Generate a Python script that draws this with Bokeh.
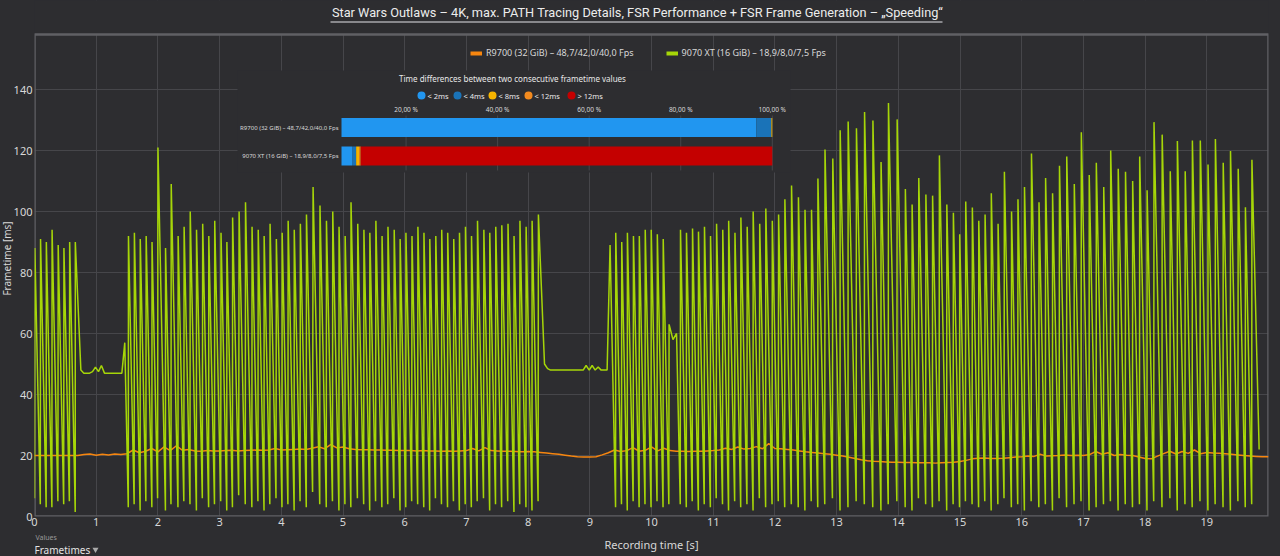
import numpy as np
from bokeh.plotting import figure
from bokeh.layouts import column
from bokeh.models import (Range1d, Legend, LegendItem, ColumnDataSource, FixedTicker, Title)
from bokeh.core.properties import value
from bokeh.embed import file_html
from bokeh.resources import INLINE

# ---------------- data ----------------
title_text = "Star Wars Outlaws – 4K, max. PATH Tracing Details, FSR Performance + FSR Frame Generation – „Speeding“"
series_names = ["R9700 (32 GiB) – 48,7/42,0/40,0 Fps", "9070 XT (16 GiB) – 18,9/8,0/7,5 Fps"]
x_ticks = list(range(0, 20))
y_ticks = [0, 20, 40, 60, 80, 100, 120, 140]

# R9700 frametime (ms), sampled every 0.1 s from 0 to 20 s
orange_ms = [
    20.0, 20.0, 20.0, 20.0, 20.0, 20.0, 20.0, 20.0,
    20.3, 20.5, 20.1, 20.4, 20.2, 20.5, 20.3,
    20.6, 21.8, 20.9, 21.4, 22.3, 21.2, 22.8, 21.6, 23.2, 21.7, 22.0,
    21.5, 21.4, 21.6, 21.5, 21.5, 21.6, 21.7, 21.5, 21.6, 21.7, 21.8, 21.7, 21.8, 22.3, 21.8,
    21.9, 22.0, 22.1, 22.0, 22.4, 22.9, 22.2, 23.6, 22.5, 22.8,
    22.2, 22.0, 21.9, 21.9, 21.8, 21.8, 21.7, 21.7, 21.6, 21.6,
    21.6, 21.5, 21.6, 21.5, 21.5, 21.4, 21.5, 21.4, 21.5, 21.6,
    22.3, 21.5, 22.6, 21.6, 21.5, 21.4, 21.4, 21.3, 21.2, 21.3,
    21.2, 21.0, 20.8, 20.6, 20.4, 20.1, 19.8, 19.6, 19.5, 19.5,
    19.6, 20.2, 20.9, 21.8, 21.3, 21.6, 22.6, 21.4, 21.7, 22.8,
    21.5, 22.4, 21.6, 21.4, 21.4, 21.3, 21.4, 21.4, 21.5, 21.6,
    21.8, 22.4, 22.0, 22.8, 22.1, 22.3, 22.9, 22.2, 23.9, 22.3,
    22.2, 22.0, 21.8, 21.5, 21.2, 21.0, 20.8, 20.6, 20.4, 20.1,
    19.8, 19.4, 19.0, 18.6, 18.3, 18.1, 18.0, 17.9, 17.8, 17.8,
    17.7, 17.7, 17.6, 17.6, 17.6, 17.5, 17.6, 17.7, 17.8, 18.0,
    18.4, 18.9, 19.1, 19.2, 19.0, 19.0, 19.1, 19.3, 19.5, 19.6,
    19.8, 19.7, 20.4, 19.8, 19.9, 20.0, 20.2, 20.0, 20.1, 20.0,
    20.3, 21.3, 20.4, 20.9, 20.0, 20.3, 20.1, 20.0, 19.5, 19.0,
    18.9, 19.8, 20.6, 21.4, 20.5, 21.3, 20.7, 21.8, 20.6, 21.0,
    20.8, 20.7, 20.6, 20.4, 20.2, 20.0, 19.8, 19.7, 19.6, 19.6,
]

# 9070 XT frametimes (ms), frame by frame, in segments
g_a_troughs = [6, 4, 3, 3, 5, 4, 5, 1.5]
g_a_peaks = [88, 91, 90, 94, 89, 88, 90, 90]
g_flat1 = [48, 47, 47, 47, 47.5, 49, 47.5, 49.5, 47, 47, 47, 47, 47, 47, 47, 57]
g_b_troughs = [3, 4, 2, 5, 3, 6, 2, 4, 3, 5,
               4, 2, 6, 3, 4, 5, 2, 3, 7, 4,
               3, 5, 2, 4, 6, 3, 4, 2, 5, 3,
               8, 4, 3, 5, 2, 4, 3, 6, 4, 2,
               5, 3, 4, 6, 2, 3, 5, 4, 3, 2,
               6, 4, 3, 5, 2, 4, 3, 5, 6, 2,
               4, 3, 5, 1.5, 4, 3, 2, 5]
g_b_peaks = [92, 93, 91, 92, 90, 121, 88, 109, 92, 95,
             100, 94, 96, 92, 97, 93, 90, 98, 100, 103,
             95, 94, 92, 96, 91, 93, 97, 94, 96, 99,
             108, 102, 97, 100, 95, 92, 103, 96, 94, 93,
             97, 92, 95, 94, 91, 93, 92, 95, 93, 91,
             92, 94, 93, 91, 93, 95, 92, 97, 94, 93,
             95, 95.5, 96, 92, 97, 95, 97, 99]
g_flat2 = [50, 48.5, 48, 48, 48, 48, 48, 48, 48, 48, 48, 48, 48, 48,
           49.5, 48, 49.5, 48, 49, 48, 48, 48]
g_c_peaks = [89, 93, 90, 93, 92, 92, 94, 94, 92.5, 91]
g_c_troughs = [3, 4, 2, 5, 3, 4, 3, 5, 3, 4]
g_mid = [63, 58, 60]
g_d_troughs = [4, 3, 5, 2, 4, 3, 6, 4, 2, 5, 3, 4, 2, 6, 3, 4, 5, 3,
               4, 3, 2, 5, 3, 4, 6, 2, 3, 5, 4, 3, 2, 4, 5, 3, 2, 6, 4, 3, 5, 2, 4, 3, 5, 4,
               3, 5, 2, 4, 6, 3, 4, 2, 5, 3, 4, 2, 6, 3, 4, 5, 2, 3, 4, 5, 2, 4, 3,
               4, 2, 5, 3, 6, 2, 4, 3, 5, 2, 4, 3, 2, 5, 3, 4]
g_d_peaks = [94, 93, 94.4, 93.4, 95, 92, 96, 94, 97, 93, 98, 95, 100, 96, 101, 97, 99, 104,
             108.5, 104.7, 100.6, 100.6, 110.8, 120.3, 117.4, 126.6, 129.5, 127.3, 132.6,
             129.8, 116.2, 135.6, 130.2, 107.4, 102.3, 111, 105.6, 105.2, 118.4, 102.3,
             99.6, 92.5, 103.3, 101.3,
             97, 99, 106, 96, 113, 100, 104, 108, 119, 103, 111, 106, 115, 118, 109, 126,
             112, 116, 108, 120, 114, 113, 110, 118, 107,
             129.3, 125.2, 113.2, 123.1, 113.2, 123.3, 123.3, 115.4, 123.8, 116, 119.8,
             114, 101.4, 117, 125.2, 106.7]
g_end = [22]

# inset: share of frame-to-frame time differences (%)
delta_classes = ["< 2ms", "< 4ms", "< 8ms", "< 12ms", "> 12ms"]
delta_colors = ["#2196f0", "#1a73b8", "#f5b400", "#f28a1e", "#c40000"]
r9700_shares = [96.5, 3.3, 0.2, 0.0, 0.0]
xt9070_shares = [8.2, 0.9, 0.65, 0.35, 89.9]
inset_ticks = [20, 40, 60, 80, 100]
inset_tick_labels = ["20,00 %", "40,00 %", "60,00 %", "80,00 %", "100,00 %"]
inset_axis_min = 5.9


def alternate(a, b):
    out = []
    for u, v in zip(a, b):
        out += [u, v]
    return out


green_ft = np.array(
    alternate(g_a_troughs, g_a_peaks) + g_flat1 + alternate(g_b_troughs, g_b_peaks)
    + g_flat2 + alternate(g_c_peaks, g_c_troughs) + g_mid
    + alternate(g_d_troughs, g_d_peaks) + g_end, dtype=float)
green_t = np.concatenate([[0.0], np.cumsum(green_ft)[:-1]]) / 1000.0
orange_t = np.linspace(0, 20, len(orange_ms))

# ---------------- styling / layout ----------------
BG = "#2d2d30"
GRID = "#46464a"
TXT = "#d8d8d8"
ORANGE = "#f7860f"
GREEN = "#a6d608"
FONT = "Noto Sans"
W = 1280
FL, FR, FT, FB = 34, 1268, 34, 516   # plot-area edges on the page
MAIN_BOTTOM = 532                    # page y where the main figure ends


def anchored(v0, p0, v1, p1, ps, pe):
    k = (v1 - v0) / (p1 - p0)
    return Range1d(start=v0 + (ps - p0) * k, end=v0 + (pe - p0) * k)


# main figure: its frame runs from the page top (title area inside) to FB
p = figure(width=W, height=MAIN_BOTTOM, x_range=Range1d(0, 20),
           y_range=anchored(0, FB, 140, 89, FB, 0),
           output_backend="svg", toolbar_location=None,
           min_border_left=FL, min_border_right=W - FR, min_border_top=0,
           min_border_bottom=MAIN_BOTTOM - FB,
           background_fill_color=None, border_fill_color=None)
p.outline_line_color = None

for ax in (p.xaxis, p.yaxis):
    ax.axis_line_color = None
    ax.major_tick_line_color = None
    ax.minor_tick_line_color = None
    ax.major_tick_out = 0
    ax.major_label_text_color = TXT
    ax.major_label_text_font = FONT
    ax.major_label_text_font_size = "11px"
p.xaxis.ticker = FixedTicker(ticks=x_ticks)
p.yaxis.ticker = FixedTicker(ticks=y_ticks)
p.xaxis.major_label_standoff = 1
p.yaxis.major_label_standoff = 2
p.xgrid.ticker = FixedTicker(ticks=x_ticks)
p.ygrid.ticker = FixedTicker(ticks=y_ticks)
p.xgrid.grid_line_color = GRID
p.ygrid.grid_line_color = GRID
p.add_layout(Title(text="Frametime [ms]", align="center", offset=-22, standoff=-6,
                   text_font=FONT, text_font_size="10px", text_font_style="normal",
                   text_color=TXT), "left")

p.extra_x_ranges = {"px": Range1d(FL, FR),
                    "pct": anchored(inset_axis_min, 341, 100, 771.8, FL, FR)}
p.extra_y_ranges = {"py": Range1d(FB, 0),
                    "row": anchored(1, 127, 0, 155.5, FB, 0)}

# title area (covers the grid above the plot area)
p.quad(left=[0], right=[W], top=[0], bottom=[FT], fill_color=BG, line_color=None,
       x_range_name="px", y_range_name="py")
p.text(x=[637], y=[12], text=[title_text], text_font=value("Roboto"),
       text_font_size="12.75px", text_color="#ececec", text_align="center",
       text_baseline="middle", x_range_name="px", y_range_name="py")
p.segment(x0=[330], x1=[942], y0=[21.5], y1=[21.5], line_color="#88888c", line_width=2,
          x_range_name="px", y_range_name="py")
# plot-area border
p.quad(left=[FL], right=[FR], top=[FT], bottom=[FB], fill_alpha=0, line_color="#606064",
       line_width=2.5, x_range_name="px", y_range_name="py")

# series
p.line(orange_t, orange_ms, line_color=ORANGE, line_width=1.5)
p.line(green_t, green_ft, line_color=GREEN, line_width=1.5)

# legend swatches: thick lines lying outside the visible range
sw_or = p.line([-5, -4], [-50, -50], line_color=ORANGE, line_width=4)
sw_gr = p.line([-5, -4], [-50, -50], line_color=GREEN, line_width=4)
legend = Legend(items=[LegendItem(label=series_names[0], renderers=[sw_or]),
                       LegendItem(label=series_names[1], renderers=[sw_gr])],
                location=(436, FB - 59), orientation="horizontal",
                background_fill_alpha=0, border_line_color=None,
                label_text_color=TXT, label_text_font=FONT, label_text_font_size="9px",
                glyph_width=12, glyph_height=10, label_height=10, spacing=32,
                padding=0, margin=0, label_standoff=4)
p.add_layout(legend)

# ---------------- inset bar chart ----------------
p.quad(left=[237], right=[790], top=[70], bottom=[172], fill_color=BG, line_color=None,
       x_range_name="px", y_range_name="py")
p.segment(x0=inset_ticks, x1=inset_ticks, y0=[115] * len(inset_ticks),
          y1=[170] * len(inset_ticks), line_color=GRID, line_width=1,
          x_range_name="pct", y_range_name="py")
p.text(x=inset_ticks, y=[109] * len(inset_ticks), text=inset_tick_labels,
       text_font=value(FONT), text_font_size="6.5px", text_color=TXT,
       text_align="center", text_baseline="middle", x_range_name="pct", y_range_name="py")

rows = [(1, r9700_shares), (0, xt9070_shares)]
bl, br, by, bc = [], [], [], []
for ypos, shares in rows:
    cum = np.concatenate([[0.0], np.cumsum(shares)])
    for i, c in enumerate(delta_colors):
        lo, hi = max(cum[i], inset_axis_min), cum[i + 1]
        if hi > lo:
            bl.append(lo); br.append(hi); by.append(ypos); bc.append(c)
p.hbar(y="y", left="l", right="r", height=0.66, fill_color="c", line_color=None,
       source=ColumnDataSource(dict(y=by, l=bl, r=br, c=bc)),
       x_range_name="pct", y_range_name="row")
p.text(x=[338, 338], y=[1, 0], text=series_names, text_font=value(FONT),
       text_font_size="6px", text_color=TXT, text_align="right", text_baseline="middle",
       x_range_name="px", y_range_name="row")
p.text(x=[512], y=[78], text=["Time differences between two consecutive frametime values"],
       text_font=value(FONT), text_font_size="8px", text_color="#e8e8e8",
       text_align="center", text_baseline="middle", x_range_name="px", y_range_name="py")
leg_x = [421, 457, 492, 528, 571]
p.scatter(x=leg_x, y=[95] * 5, size=8, fill_color=delta_colors, line_color=None,
          x_range_name="px", y_range_name="py")
p.text(x=[v + 6 for v in leg_x], y=[95] * 5, text=delta_classes, text_font=value(FONT),
       text_font_size="7.5px", text_color="#e8e8e8", text_align="left",
       text_baseline="middle", x_range_name="px", y_range_name="py")

# --- bottom strip (its frame lines up with the plot area horizontally) ---
bot = figure(width=W, height=556 - MAIN_BOTTOM, x_range=Range1d(FL, FR),
             y_range=Range1d(556, MAIN_BOTTOM), output_backend="svg", toolbar_location=None,
             x_axis_type=None, y_axis_type=None, min_border_left=FL,
             min_border_right=W - FR, min_border_top=0, min_border_bottom=0,
             background_fill_color=None, border_fill_color=None)
bot.outline_line_color = None
bot.text(x=[651], y=[544], text=["Recording time [s]"], text_font=value(FONT),
         text_font_size="11px", text_color=TXT, text_align="center", text_baseline="middle")
bot.text(x=[35], y=[536.5], text=["Values"], text_font=value(FONT), text_font_size="7px",
         text_color="#9a9a9a", text_align="left", text_baseline="middle")
bot.text(x=[34], y=[549], text=["Frametimes"], text_font=value(FONT), text_font_size="10px",
         text_color="#e4e4e4", text_align="left", text_baseline="middle")
bot.scatter(x=[95], y=[549], marker="inverted_triangle", size=6, fill_color="#aaaaaa",
            line_color=None)

layout = column(p, bot, spacing=0, styles={"background-color": BG})
open("out.html", "w").write(file_html(layout, INLINE))
